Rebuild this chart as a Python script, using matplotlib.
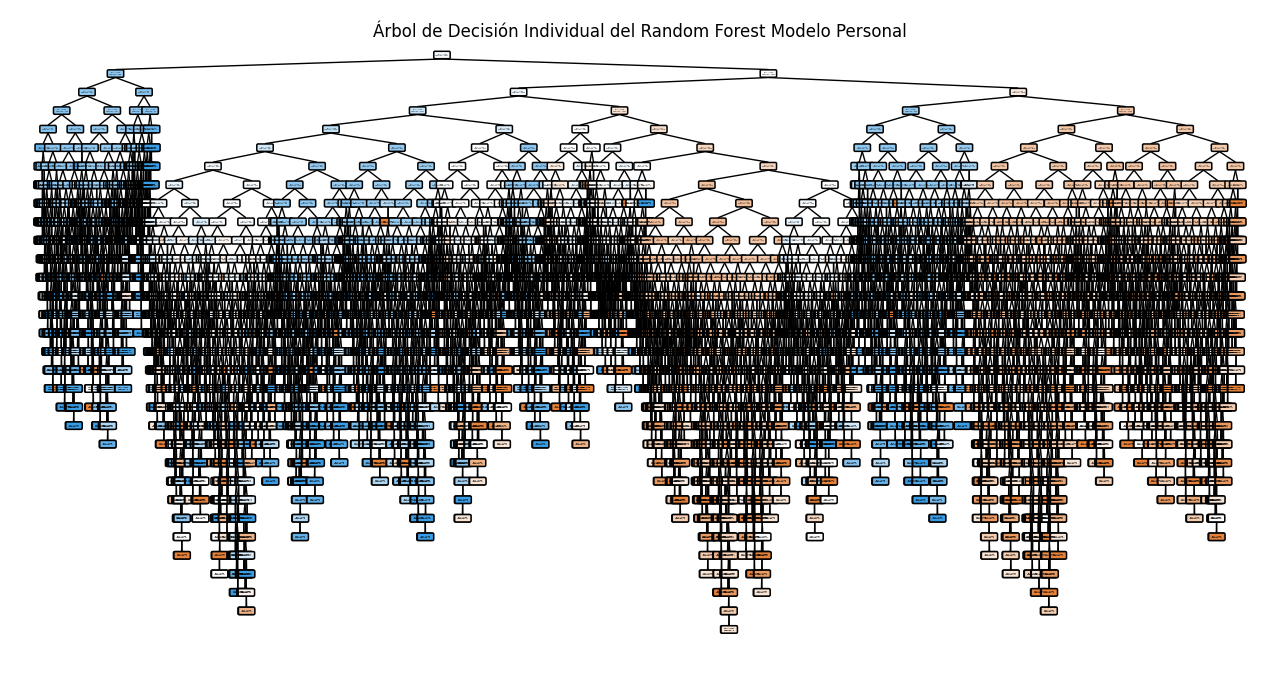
import matplotlib
matplotlib.use("Agg")
import matplotlib.pyplot as plt
from matplotlib.patches import FancyBboxPatch
from matplotlib.collections import LineCollection

# ---- tree description (top levels) ----
# a leaf of the spec ("S", depth, bias) is grown by a fixed branching rule
CUTS = [1, 3, 2, 5, 1, 4, 6, 2, 3, 7, 2, 8]
BUSH = 5
BLUE_P = [0.0, 0.1, 0.0, 0.3, 0.0, 1.0, 0.2, 0.0, 0.4]
ORANGE_P = [1.0, 0.9, 1.0, 0.7, 0.0, 1.0, 0.8, 0.6]
MIX_P = [0.0, 1.0, 0.3, 0.8, 0.5, 0.0, 1.0, 0.6, 0.2]
BIAS = {"b": BLUE_P, "o": ORANGE_P, "m": MIX_P}

LEFT = (("S", 19, "b"), ("S", 13, "b"))
MIDDLE = (
    (
        ((("S", 24, "m"), ("S", 20, "b")), ("S", 21, "b")),
        (("S", 20, "m"), ("S", 16, "b")),
    ),
    (("S", 17, "m"),
     (("S", 14, "m"),
      (("S", 12, "m"),
       (("S", 24, "o"), ("S", 19, "m"))))),
)
RIGHT = (("S", 22, "b"), (("S", 26, "o"), ("S", 22, "o")))
SPEC = (LEFT, (MIDDLE, RIGHT))

counter = [0]


def grow(d, bias, bush):
    k = counter[0]
    counter[0] += 1
    if d <= 0:
        vals = BIAS[bias]
        return vals[k % len(vals)]
    cut = CUTS[k % len(CUTS)]
    light = d - 1 - cut
    if bush <= 0:
        light = min(light, 1 + k % 3)
    heavy = grow(d - 1, bias, bush - 1)
    other = grow(max(light, 0), bias, bush - 1)
    return (heavy, other) if k % 2 else (other, heavy)


def expand(s):
    if isinstance(s, tuple) and s and s[0] == "S":
        return grow(s[1], s[2], BUSH)
    return (expand(s[0]), expand(s[1]))


tree = expand(SPEC)

# ---- layout: simple contour packing (tidy tree) ----
xs, ds, ps, ns, edges = [], [], [], [], []


def layout(t, depth):
    """returns (node index, p, n, list of node ids, contour dict)"""
    if not isinstance(t, tuple):
        xs.append(0.0); ds.append(depth); ps.append(t); ns.append(1)
        i = len(xs) - 1
        return i, t, 1, [i], {depth: [0.0, 0.0]}
    il, pl, nl, idl, cl = layout(t[0], depth + 1)
    ir, pr, nr, idr, cr = layout(t[1], depth + 1)
    shift = max(cl[d][1] - cr[d][0] + 1.0 for d in cl if d in cr)
    for j in idr:
        xs[j] += shift
    for d in cr:
        cr[d][0] += shift
        cr[d][1] += shift
    for d, (lo, hi) in cr.items():
        if d in cl:
            cl[d][1] = hi
        else:
            cl[d] = [lo, hi]
    x = (xs[il] + xs[ir]) / 2
    p = (pl * nl + pr * nr) / (nl + nr)
    xs.append(x); ds.append(depth); ps.append(p); ns.append(nl + nr)
    me = len(xs) - 1
    edges.append((me, il))
    edges.append((me, ir))
    cl[depth] = [x, x]
    return me, p, nl + nr, idl + idr + [me], cl


layout(tree, 0)
xmin, xmax = min(xs), max(xs)


def px(x):
    return 42 + 1196 * (x - xmin) / (xmax - xmin)


def py(d):
    return 55 + 18.53 * d


def colour(p):
    if p >= 0.5:
        c, a = (0.898, 0.506, 0.224), 2 * p - 1
    else:
        c, a = (0.224, 0.616, 0.898), 1 - 2 * p
    return tuple(1 - a + a * ci for ci in c)


fig = plt.figure(figsize=(12.73, 6.73), dpi=100)
ax = fig.add_axes([0, 0, 1, 1])
ax.set_xlim(0, 1273)
ax.set_ylim(673, 0)
ax.axis("off")

segs = [[(px(xs[a]), py(ds[a]) + 4), (px(xs[b]), py(ds[b]) - 4)] for a, b in edges]
ax.add_collection(LineCollection(segs, colors="black", linewidths=1.0, zorder=1))

w, h = 14, 5
for x, d, p, n in zip(xs, ds, ps, ns):
    cx, cy = px(x), py(d)
    ax.add_patch(FancyBboxPatch((cx - w / 2, cy - h / 2), w, h,
                                boxstyle="round,pad=1.2", fc=colour(p),
                                ec="black", lw=1.1, zorder=2))
    ax.text(cx, cy, "gini = %.2f\nsamples = %d" % (2 * p * (1 - p), n),
            fontsize=1.2, ha="center", va="center", zorder=3)

ax.text(640, 32, "Árbol de Decisión Individual del Random Forest Modelo Personal",
        ha="center", va="center", fontsize=12)

fig.savefig("out.png", dpi=100)
